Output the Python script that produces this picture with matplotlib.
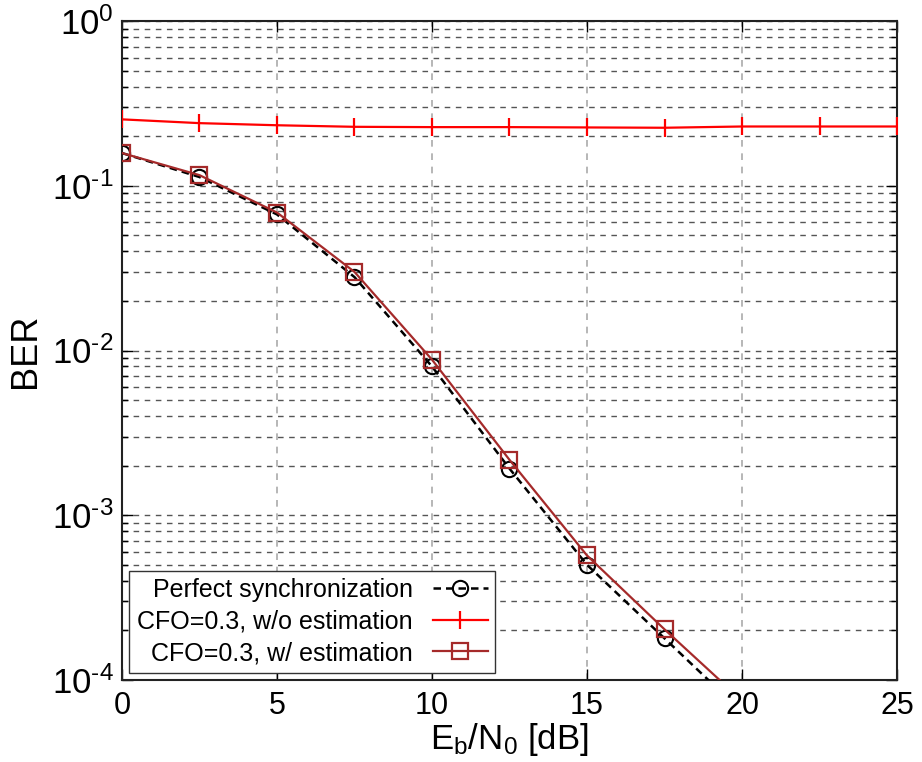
"""
BER vs Eb/N0 with and without CFO estimation
"""
import matplotlib
matplotlib.use("Agg")
import matplotlib.pyplot as plt
import numpy as np

plt.rcParams['font.family'] = ['Liberation Sans', 'DejaVu Sans']
plt.rcParams['mathtext.fontset'] = 'custom'
plt.rcParams['mathtext.rm'] = 'Liberation Sans'
plt.rcParams['mathtext.it'] = 'Liberation Sans:italic'
plt.rcParams['mathtext.default'] = 'regular'

# data
ebn0 = [0, 2.5, 5, 7.5, 10, 12.5, 15, 17.5, 20]
ber_perfect = [0.158, 0.113, 0.067, 0.0279, 0.0080, 0.00192, 0.00050, 0.000179, 0.000064]
ber_est = [0.158, 0.116, 0.0688, 0.0300, 0.0088, 0.00217, 0.00057, 0.000203, 0.000075]

ebn0_noest = [0, 2.5, 5, 7.5, 10, 12.5, 15, 17.5, 20, 22.5, 25]
ber_noest = [0.253, 0.240, 0.233, 0.228, 0.227, 0.227, 0.226, 0.225, 0.229, 0.229, 0.229]

yticks = [1e-4, 1e-3, 1e-2, 1e-1, 1]
ytick_labels = ['10$^{\u20104}$', '10$^{\u20103}$', '10$^{\u20102}$', '10$^{\u20101}$', '10$^{0}$']

fig = plt.figure(figsize=(9.22, 7.62), dpi=100)
ax = fig.add_axes([0.1323, 0.1076, 0.8406, 0.8648])

ax.plot(ebn0, ber_perfect, color='black', linestyle=(0, (3, 2)), lw=1.8,
        marker='o', markersize=11, markerfacecolor='none', markeredgewidth=1.5,
        label='Perfect synchronization', zorder=3)
ax.plot(ebn0_noest, ber_noest, color='#ff0000', lw=1.6,
        marker='|', markersize=13, markeredgewidth=1.6,
        label='CFO=0.3, w/o estimation', zorder=4)
ax.plot(ebn0, ber_est, color='#a52a2a', lw=1.6,
        marker='s', markersize=11, markerfacecolor='none', markeredgewidth=1.6,
        label='CFO=0.3, w/ estimation', zorder=4)

ax.set_yscale('log')
ax.set_xlim(0, 25)
ax.set_ylim(1e-4, 1)
ax.set_xticks(np.arange(0, 26, 5))
ax.set_yticks(yticks)
ax.set_yticklabels(ytick_labels)

ax.xaxis.grid(True, which='major', color='#aaaaaa', linestyle=(0, (4, 4)), lw=1.2)
ax.yaxis.grid(True, which='both', color='#555555', linestyle=(0, (4, 4)), lw=1.0)
ax.set_axisbelow(True)

ax.tick_params(which='both', direction='in', top=True, right=True)
ax.tick_params(which='major', length=8, width=1)
ax.tick_params(which='minor', length=4, width=1)
ax.tick_params(axis='x', pad=8, labelsize=22)
ax.tick_params(axis='y', pad=6, labelsize=25)
for s in ax.spines.values():
    s.set_linewidth(1.5)
    s.set_color('#222222')

ax.set_xlabel(r'E$_b$/N$_0$ [dB]', fontsize=25, labelpad=0)
ax.set_ylabel('BER', fontsize=26, labelpad=6)

leg = ax.legend(loc='lower left', bbox_to_anchor=(0.0, 0.0), fontsize=18,
                markerfirst=False, fancybox=False, framealpha=1,
                edgecolor='#333333', handlelength=2.2, borderpad=0.3,
                labelspacing=0.3, borderaxespad=0.3)
for t in leg.get_texts():
    t.set_ha('right')
leg._legend_box.align = 'right'

fig.savefig('out.png', dpi=100)
